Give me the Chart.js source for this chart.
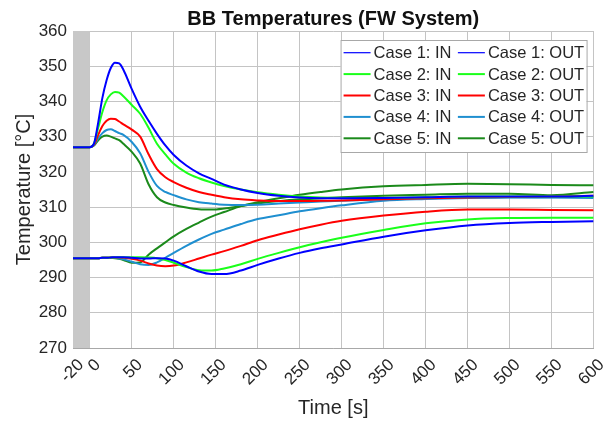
<!DOCTYPE html>
<html>
<head>
<meta charset="utf-8">
<script src="https://cdn.jsdelivr.net/npm/chart.js@4.4.1/dist/chart.umd.min.js"></script>
<style>
  html, body { margin: 0; padding: 0; background: #fff; }
  #wrap { width: 615px; height: 421px; position: relative; }
</style>
</head>
<body>
<div id="wrap"><canvas id="grafico"></canvas></div>
<script>
// Tempo [s] comum a todas as séries
const tempo = [-20, 0, 5, 10, 15, 20, 25, 30, 35, 40, 50, 60, 70, 80, 90, 100, 115, 130, 145, 160, 180, 200, 225, 250, 275, 300, 350, 400, 450, 500, 550, 600];

// Temperaturas de entrada (IN)
const caso1In = [327, 327, 328, 334, 341, 346, 349.5, 351, 350.8, 349, 343.5, 338.5, 334.5, 330.8, 327.5, 324.8, 321.8, 319.6, 318, 316.4, 315, 314, 313.2, 312.7, 312.5, 312.5, 312.6, 312.8, 313, 313, 313, 313.2];
const caso2In = [327, 327, 328, 332.5, 337, 340.3, 342, 342.7, 342.5, 341.5, 339, 336.5, 332.5, 328, 325, 322.3, 319.8, 318.2, 317, 316, 315, 314.2, 313.5, 313, 312.7, 312.6, 312.6, 312.8, 313, 313, 313, 313];
const caso3In = [327, 327, 327.7, 330.5, 333, 334.5, 335.1, 335, 334.3, 333.5, 332, 330, 325, 320.8, 318.5, 317.1, 315.5, 314.3, 313.5, 312.8, 312.2, 311.9, 311.7, 311.7, 311.8, 311.9, 312.2, 312.5, 312.7, 312.9, 313, 313.2];
const caso4In = [327, 327, 327.6, 329.5, 331, 331.9, 332.1, 331.6, 331, 330.5, 328.5, 325.3, 320, 316, 314.3, 313.4, 312.2, 311.4, 311, 310.7, 310.6, 310.7, 311, 311.3, 311.6, 311.8, 312.2, 312.5, 312.7, 312.8, 312.7, 312.6];
const caso5In = [327, 327, 327.5, 329, 330, 330.3, 330, 329.5, 329, 328, 325.7, 322.4, 316.5, 312.8, 311.3, 310.6, 309.9, 309.4, 309.3, 309.6, 310.3, 311, 311.7, 312.2, 312.5, 312.8, 313.2, 313.5, 313.8, 313.8, 313.4, 314.3];

// Temperaturas de saída (OUT)
const caso1Out = [295.5, 295.5, 295.5, 295.5, 295.6, 295.6, 295.7, 295.8, 295.8, 295.8, 295.6, 295.4, 295.4, 295.5, 295.4, 294.8, 293.2, 291.7, 291, 291, 292, 293.6, 295.4, 297, 298.3, 299.4, 301.6, 303.4, 304.8, 305.5, 305.8, 306];
const caso2Out = [295.5, 295.5, 295.5, 295.5, 295.6, 295.6, 295.7, 295.7, 295.8, 295.8, 295.8, 295.8, 295.7, 295.5, 295, 294.2, 293, 292.1, 292, 292.6, 293.8, 295.3, 297, 298.6, 300, 301.3, 303.5, 305.4, 306.5, 306.9, 307, 307];
const caso3Out = [295.5, 295.5, 295.5, 295.5, 295.6, 295.6, 295.7, 295.7, 295.7, 295.6, 295.3, 294.8, 294, 293.4, 293.2, 293.4, 294.3, 295.4, 296.5, 297.5, 299, 300.6, 302.2, 303.7, 305, 306.1, 307.6, 308.7, 309.3, 309.3, 309.2, 309.1];
const caso4Out = [295.5, 295.5, 295.5, 295.5, 295.6, 295.6, 295.6, 295.6, 295.4, 295.2, 294.5, 293.8, 293.6, 294.3, 295.6, 297, 299, 300.8, 302.4, 303.6, 305.2, 306.6, 307.7, 308.8, 309.7, 310.5, 311.8, 312.3, 312.6, 312.7, 312.8, 312.9];
const caso5Out = [295.5, 295.5, 295.5, 295.5, 295.6, 295.6, 295.6, 295.5, 295.3, 295, 294.2, 294.3, 296.5, 298.3, 300, 301.7, 303.8, 305.6, 307.3, 308.6, 310.3, 311.4, 312.5, 313.5, 314.3, 315, 315.9, 316.3, 316.6, 316.5, 316.3, 316.2];

const rotulos = ['Case 1', 'Case 2', 'Case 3', 'Case 4', 'Case 5'];
const cores = ['#0000ff', '#1aff1a', '#ff0000', '#1f8fd0', '#1b8a1b'];
const ticksTempo = [-20, 0, 50, 100, 150, 200, 250, 300, 350, 400, 450, 500, 550, 600];

const FONTE = '"Liberation Sans", Arial, sans-serif';

function pontos(valores) {
    return tempo.map((t, i) => ({ x: t, y: valores[i] }));
}

// Ordem: IN e OUT de cada caso lado a lado (igual à legenda de 2 colunas)
const entradas = [caso1In, caso2In, caso3In, caso4In, caso5In];
const saidas = [caso1Out, caso2Out, caso3Out, caso4Out, caso5Out];
const datasets = [];
rotulos.forEach((r, i) => {
    datasets.push({ label: r + ': IN', data: pontos(entradas[i]), borderColor: cores[i] });
    datasets.push({ label: r + ': OUT', data: pontos(saidas[i]), borderColor: cores[i] });
});

// Faixa cinza antes do início do transiente (-20 a 0 s)
const faixaCinza = {
    id: 'faixaCinza',
    beforeDatasetsDraw(chart) {
        const { ctx, chartArea, scales } = chart;
        const x0 = scales.x.getPixelForValue(-20);
        const x1 = scales.x.getPixelForValue(0);
        ctx.save();
        ctx.fillStyle = '#c8c8c8';
        ctx.fillRect(x0, chartArea.top, x1 - x0, chartArea.bottom - chartArea.top);
        ctx.restore();
    }
};

// Legenda em caixa dentro do gráfico, duas colunas
const legendaCaixa = {
    id: 'legendaCaixa',
    afterDraw(chart) {
        const { ctx, chartArea } = chart;
        const largura = 246, altura = 112;
        const esq = chartArea.right - 7 - largura;
        const topo = chartArea.top + 9;
        ctx.save();
        ctx.fillStyle = '#ffffff';
        ctx.fillRect(esq, topo, largura, altura);
        ctx.strokeStyle = '#a8a8a8';
        ctx.lineWidth = 1;
        ctx.strokeRect(esq + 0.5, topo + 0.5, largura, altura);
        ctx.font = '16.5px ' + FONTE;
        ctx.textBaseline = 'middle';
        ctx.fillStyle = '#262626';
        chart.data.datasets.forEach((ds, i) => {
            const col = i % 2, lin = Math.floor(i / 2);
            const x = esq + 3 + col * 114.3;
            const y = topo + 12.7 + lin * 21.4;
            ctx.strokeStyle = ds.borderColor;
            ctx.lineWidth = lin === 0 ? 1.2 : 2;
            ctx.beginPath();
            ctx.moveTo(x, y);
            ctx.lineTo(x + 27, y);
            ctx.stroke();
            ctx.fillText(ds.label, x + 30, y + 1);
        });
        ctx.restore();
    }
};

const ctx = document.getElementById('grafico').getContext('2d');
new Chart(ctx, {
    type: 'line',
    data: { datasets: datasets },
    options: {
        responsive: true,
        maintainAspectRatio: false,
        animation: false,
        devicePixelRatio: 1,
        layout: { padding: { left: 0, right: 21, top: 0, bottom: 0 } },
        elements: {
            point: { radius: 0 },
            line: { borderWidth: 2, cubicInterpolationMode: 'monotone' }
        },
        plugins: {
            legend: { display: false },
            tooltip: { enabled: false },
            title: {
                display: true,
                text: 'BB Temperatures (FW System)',
                color: '#111',
                fullSize: false,
                font: { family: FONTE, size: 20, weight: 'bold' },
                padding: { top: 7, bottom: 0 }
            }
        },
        scales: {
            x: {
                type: 'linear',
                min: -20,
                max: 600,
                afterBuildTicks: scale => { scale.ticks = ticksTempo.map(v => ({ value: v })); },
                afterFit: scale => { scale.height = 73; },
                grid: { color: '#c4c4c4', drawTicks: false },
                border: { color: '#a8a8a8' },
                ticks: {
                    autoSkip: false,
                    minRotation: 45,
                    maxRotation: 45,
                    padding: 7,
                    labelOffset: 8,
                    color: '#262626',
                    font: { family: FONTE, size: 17 }
                },
                title: {
                    display: true,
                    text: 'Time [s]',
                    color: '#262626',
                    font: { family: FONTE, size: 20 },
                    padding: { top: 0, bottom: 1 }
                }
            },
            y: {
                min: 270,
                max: 360,
                afterFit: scale => { scale.width = 73; },
                grid: { color: '#c4c4c4', drawTicks: false },
                border: { color: '#a8a8a8' },
                ticks: {
                    stepSize: 10,
                    padding: 6,
                    color: '#262626',
                    font: { family: FONTE, size: 17 }
                },
                title: {
                    display: true,
                    text: 'Temperature [°C]',
                    color: '#262626',
                    font: { family: FONTE, size: 20 },
                    padding: { top: 12, bottom: 0 }
                }
            }
        }
    },
    plugins: [faixaCinza, legendaCaixa]
});
</script>
</body>
</html>
